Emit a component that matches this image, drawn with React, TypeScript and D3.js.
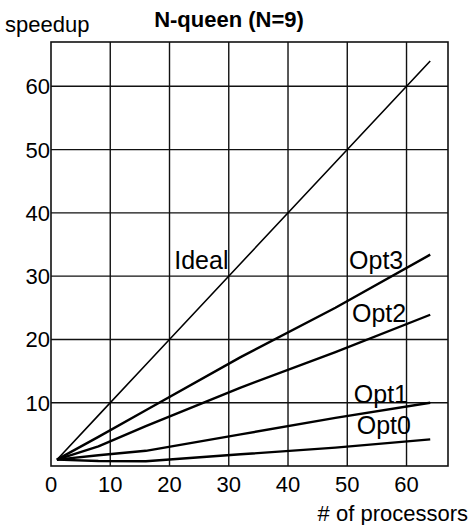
import React from 'react';
import * as d3 from 'd3';

// values
const procs = [1, 8, 16, 32, 48, 64];
const ideal = [1, 8, 16, 32, 48, 64];
const opt3 = [1, 4.6, 8.8, 17.2, 25.0, 33.4];
const opt2 = [1, 3.1, 6.3, 12.4, 18.0, 23.9];
const opt1 = [1, 1.7, 2.4, 5.0, 7.6, 10.0];
const opt0 = [1, 0.8, 0.75, 1.85, 2.9, 4.2];

const xTicks = [0, 10, 20, 30, 40, 50, 60];
const yTicks = [10, 20, 30, 40, 50, 60];

const seriesNames = ['Ideal', 'Opt3', 'Opt2', 'Opt1', 'Opt0'];
// label anchors in data units (x, y)
const labelAt = [
  [20.8, 31.1],
  [50.3, 31.1],
  [50.8, 22.75],
  [51.1, 9.96],
  [51.6, 5.06],
];

const W = 471;
const H = 525;
const font = 'Arial, "Liberation Sans", Helvetica, sans-serif';

const App = () => {
  const x = d3.scaleLinear().domain([0, 67]).range([51, 448]);
  const y = d3.scaleLinear().domain([0, 67]).range([466, 42]);

  const all = [ideal, opt3, opt2, opt1, opt0];
  const line = d3.line<number>()
    .x((_, i) => x(procs[i]))
    .y(d => y(d));

  return (
    <div style={{ position: 'absolute', left: 0, top: 0 }}>
      <svg width={W} height={H} style={{ display: 'block', background: '#fff' }} fontFamily={font}>
        {/* grid */}
        {xTicks.slice(1).map(t => (
          <line key={'gx' + t} x1={x(t)} x2={x(t)} y1={y(67)} y2={y(0)} stroke="#111" strokeWidth={1.4} />
        ))}
        {yTicks.map(t => (
          <line key={'gy' + t} x1={x(0)} x2={x(67)} y1={y(t)} y2={y(t)} stroke="#111" strokeWidth={1.4} />
        ))}
        <rect x={x(0)} y={y(67)} width={x(67) - x(0)} height={y(0) - y(67)} fill="none" stroke="#111" strokeWidth={1.6} />

        {/* series */}
        {all.map((s, i) => (
          <path key={seriesNames[i]} d={line(s) || ''} fill="none" stroke="#000"
            strokeWidth={i === 0 ? 1.6 : 2.4} strokeLinejoin="round" />
        ))}
        {seriesNames.map((n, i) => (
          <text key={'l' + n} x={x(labelAt[i][0])} y={y(labelAt[i][1])} fontSize={25} fill="#000">{n}</text>
        ))}

        {/* y tick labels */}
        {yTicks.map(t => (
          <text key={'ty' + t} x={x(0) - 1} y={y(t)} dy="0.36em" textAnchor="end" fontSize={22} fill="#000">{t}</text>
        ))}
        {/* x tick labels */}
        {xTicks.map(t => (
          <text key={'tx' + t} x={x(t)} y={492} textAnchor="middle" fontSize={22} fill="#000">{t}</text>
        ))}

        <text x={229} y={27} textAnchor="middle" fontSize={22} fontWeight="bold" fill="#000">N-queen (N=9)</text>
        <text x={5} y={32} fontSize={22} fill="#000">speedup</text>
        <text x={468} y={521} textAnchor="end" fontSize={22} fill="#000"># of processors</text>
      </svg>
    </div>
  );
};

export default App;
